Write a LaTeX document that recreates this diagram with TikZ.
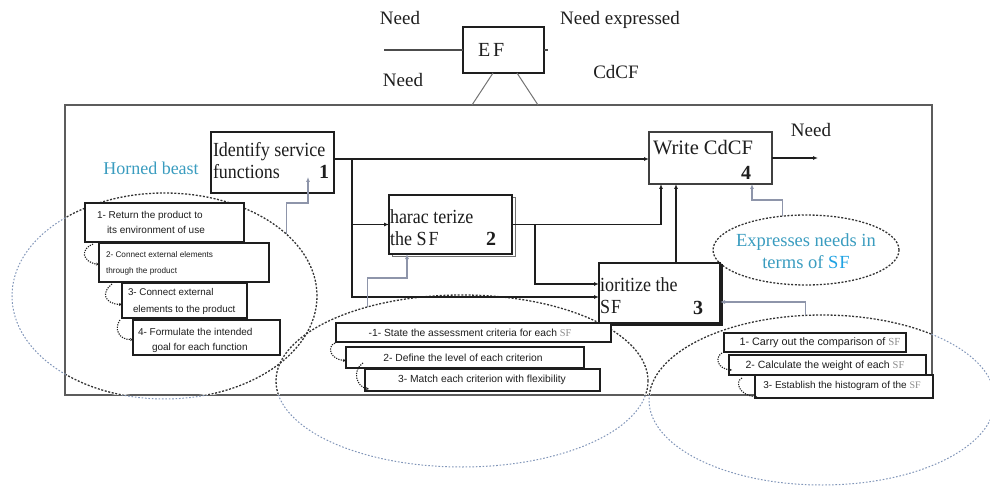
\documentclass[tikz,border=0pt]{standalone}
\usepackage{fontspec}
\setmainfont{Liberation Serif}
\newfontfamily\boxfont{Liberation Serif}[FakeStretch=0.9]
\newfontfamily\stepfont{Liberation Sans}
\usetikzlibrary{arrows.meta,shapes.geometric}
\definecolor{ink}{HTML}{1E1E1E}
\definecolor{framegrey}{HTML}{5C5C5C}
\definecolor{ctlgrey}{HTML}{8E95AA}
\definecolor{haze}{HTML}{8095B8}
\definecolor{labelteal}{HTML}{3A9CBF}
\definecolor{sfblue}{HTML}{1FA2E3}
\newcommand\greySF{{\rmfamily\color{black!45}SF}}

\begin{document}
\begin{tikzpicture}[x=1pt,y=-1pt,
  every node/.style={inner sep=0pt, outer sep=0pt},
  proc/.style={draw=ink, line width=1.4pt, fill=white, anchor=north west},
  stepbox/.style={draw=ink, line width=1.1pt, fill=white, anchor=north west},
  boxtext/.style={font={\boxfont\fontsize{20}{22}\selectfont}, text=ink, align=left, anchor=west},
  boxnum/.style={font={\bfseries\fontsize{20}{22}\selectfont}, text=ink},
  toplabel/.style={font={\fontsize{19}{21}\selectfont}, text=ink},
  steptext/.style={font={\stepfont\fontsize{10}{15}\selectfont}, text=ink, align=left, anchor=west},
  stepmid/.style={font={\stepfont\fontsize{10.3}{12}\selectfont}, text=ink},
  flow/.style={draw=ink, line width=1.3pt, -{Latex[length=5pt,width=4pt]}},
  ctl/.style={draw=ctlgrey, line width=1.4pt, -{Latex[length=5pt,width=4pt]}},
  curl/.style={draw=ink, line width=1.1pt, dash pattern=on 1.2pt off 1.2pt, -{Stealth[length=3pt,width=3pt]}},
  hazering/.style={ellipse, draw=haze, line width=1pt, dash pattern=on 1.6pt off 1.8pt},
  darkring/.style={ellipse, draw=black!80, line width=1.3pt, dash pattern=on 2pt off 1.6pt},
  lsize/.style={minimum width=305pt, minimum height=206pt},
  msize/.style={minimum width=372pt, minimum height=172pt},
  rsize/.style={minimum width=346pt, minimum height=170pt},
]
\useasboundingbox (0,0) rectangle (990,489);

% ---------- context block ----------
\node[draw=ink, line width=1.4pt, fill=white, anchor=north west,
      minimum width=81pt, minimum height=46pt] (ef) at (463,27) {};
\node[font={\fontsize{20}{22}\selectfont}, text=ink, anchor=west] (eflabel) at (478,50) {E\kern3pt F};
\coordinate (needin) at (384,50);
\coordinate (needout) at (548,50);
\draw[draw=black!70, line width=1.2pt] (needin) -- (ef.west);
\draw[draw=black!70, line width=1.2pt] (ef.east) -- (needout);
\node[toplabel] (needa) at (400,18) {Need};
\node[toplabel] (needb) at (403,80) {Need};
\node[toplabel] (needexp) at (620,20) {Need expressed};
\node[toplabel] (cdcf) at (616,72) {CdCF};

% ---------- main frame ----------
\node[draw=framegrey, line width=1.3pt, anchor=north west,
      minimum width=867pt, minimum height=290pt] (frame) at (65,105) {};
\draw[draw=black!55, line width=1pt] ([shift={(30,0)}]ef.south west) -- ([shift={(407,0)}]frame.north west);
\draw[draw=black!55, line width=1pt] ([shift={(54,0)}]ef.south west) -- ([shift={(473,0)}]frame.north west);

% ---------- grouping rings ----------
\node[hazering, lsize] (lring) at (164.5,296) {};
\node[hazering, msize] (mring) at (462,381) {};
\node[hazering, rsize] (rring) at (822,400) {};
\begin{scope}
  \clip (65.8,105.8) rectangle (931.2,394.2);
  \node[ellipse, draw=white, line width=2.6pt, lsize] at (lring) {};
  \node[ellipse, draw=white, line width=2.6pt, msize] at (mring) {};
  \node[ellipse, draw=white, line width=2.6pt, rsize] at (rring) {};
  \node[darkring, lsize] at (lring) {};
  \node[darkring, msize] at (mring) {};
  \node[darkring, rsize] at (rring) {};
\end{scope}
\node[darkring, minimum width=186pt, minimum height=70pt] (xring) at (806,250) {};
\node[font={\fontsize{18.5}{22}\selectfont}, text=labelteal, align=center] (xtext) at (806,251)
  {Expresses needs in\\terms of {\color{sfblue}S\kern1pt F}};
\node[font={\fontsize{18}{20}\selectfont}, text=labelteal] (horned) at (151,168) {Horned beast};

% ---------- process boxes ----------
\node[proc, minimum width=123pt, minimum height=61pt] (b1) at (211,132) {};
\node[proc, draw=black!55, line width=0.9pt, minimum width=123pt, minimum height=59pt] (b2shadow) at (392,197) {};
\node[proc, minimum width=123pt, minimum height=59pt] (b2) at (389,195) {};
\node[proc, fill=ink, minimum width=121pt, minimum height=60pt] (b3shadow) at (601,265) {};
\node[proc, minimum width=121pt, minimum height=60pt] (b3) at (599,263) {};
\node[proc, draw=black!75, minimum width=123pt, minimum height=52pt] (b4) at (649,132) {};

\node[boxtext] (b1text) at (213,161) {Identify service\\functions};
\node[boxnum] (b1num) at (324,172) {1};
\node[boxtext] (b2text) at (390,227.5) {harac terize\\the S\kern2pt F};
\node[boxnum] (b2num) at (491,239) {2};
\node[boxtext] (b3text) at (600,295.5) {ioritize the\\S\kern1pt F};
\node[boxnum] (b3num) at (698,308) {3};
\node[boxtext, font={\fontsize{20.5}{22}\selectfont}] (b4text) at (653,148) {Write CdCF};
\node[boxnum] (b4num) at (746,173) {4};
\node[toplabel] (needout2) at (811,130) {Need};

% ---------- main flow ----------
\coordinate (j1) at (352,159);
\coordinate (j3) at (535,0);
\coordinate (outneed) at (818,158);
\draw[flow] (b1.east |- j1) -- (b4.west |- j1);
\draw[flow] (j1) |- ([shift={(0,4)}]b3.west);
\draw[flow] (j1 |- b2.west) -- (b2.west);
\draw[flow] (b2.east) -| ([shift={(12,0)}]b4.south west);
\draw[flow] (b2.east -| j3) |- ([shift={(0,-9)}]b3.west);
\draw[flow] ([shift={(77,0)}]b3.north west) -- ([shift={(27,0)}]b4.south west);
\draw[flow] (b4.east) -- (outneed);

% ---------- control links from the rings ----------
\coordinate (b1tap) at ([shift={(97,-16)}]b1.south west);
\coordinate (b2tap) at ([shift={(18,0)}]b2.south west);
\coordinate (b4tap) at ([shift={(-20,0)}]b4.south east);
\draw[ctl] (lring.27.6) |- ([shift={(0,26)}]b1tap) -- (b1tap);
\draw[ctl] (mring.142) |- ([shift={(0,24)}]b2tap) -- (b2tap);
\draw[ctl] (rring.101) |- ([shift={(0,9)}]b3.east);
\draw[ctl] (xring.125) |- ([shift={(0,16)}]b4tap) -- (b4tap);

% ---------- step lists ----------
\node[stepbox, minimum width=159pt, minimum height=39pt] (sb1) at (85,203) {};
\node[stepbox, minimum width=170pt, minimum height=39pt] (sb2) at (99,243) {};
\node[stepbox, minimum width=125pt, minimum height=35pt] (sb3) at (122,283) {};
\node[stepbox, minimum width=147pt, minimum height=35pt] (sb4) at (133,320) {};
\node[steptext] (sb1text) at (97,222.5) {1- Return the product to\\\hspace*{10pt}its environment of use};
\node[steptext, font={\stepfont\fontsize{8.2}{16}\selectfont}] (sb2text) at (106,263) {2- Connect external elements\\through the product};
\node[steptext, font={\stepfont\fontsize{9.8}{17}\selectfont}] (sb3text) at (128,301.5) {3- Connect external\\\hspace*{5pt}elements to the product};
\node[steptext] (sb4text) at (138,340.5) {4- Formulate the intended\\\hspace*{14pt}goal for each function};

\node[stepbox, minimum width=275pt, minimum height=19pt] (mb1) at (336,323) {};
\node[stepbox, minimum width=238pt, minimum height=21pt] (mb2) at (346,347) {};
\node[stepbox, minimum width=235pt, minimum height=22pt] (mb3) at (365,369) {};
\node[stepmid] (mb1text) at (470,333) {-1- State the assessment criteria for each \greySF};
\node[stepmid] (mb2text) at (463,358) {2- Define the level of each criterion};
\node[stepmid] (mb3text) at (482,380) {3- Match each criterion with flexibility};

\node[stepbox, minimum width=182pt, minimum height=19pt] (rb1) at (724,333) {};
\node[stepbox, minimum width=197pt, minimum height=20pt] (rb2) at (729,355) {};
\node[stepbox, minimum width=178pt, minimum height=23pt] (rb3) at (755,375) {};
\node[stepmid, font={\stepfont\fontsize{10.8}{12}\selectfont}] (rb1text) at (820,343) {1- Carry out the comparison of \greySF};
\node[stepmid, font={\stepfont\fontsize{10.5}{12}\selectfont}] (rb2text) at (825,366) {2- Calculate the weight of each \greySF};
\node[stepmid, font={\stepfont\fontsize{10}{12}\selectfont}] (rb3text) at (842,386) {3- Establish the histogram of the \greySF};

% ---------- step-to-step hooks ----------
\draw[curl] ([shift={(8,2)}]sb1.south west) .. controls (80,249) and (82,262) .. ([shift={(0,2)}]sb2.west);
\draw[curl] ([shift={(13,2)}]sb2.south west) .. controls (101,292) and (104,304) .. ([shift={(0,4)}]sb3.west);
\draw[curl] ([shift={(-2,2)}]sb3.south west) .. controls (114,328) and (118,340) .. ([shift={(0,2)}]sb4.west);
\draw[curl] ([shift={(-1,1)}]mb1.south west) .. controls (326,347) and (331,360) .. ([shift={(0,3)}]mb2.west);
\draw[curl] ([shift={(17,-5)}]mb2.south west) .. controls (352,370) and (356,387) .. ([shift={(4,9)}]mb3.west);
\draw[curl] ([shift={(-2,1)}]rb1.south west) .. controls (714,358) and (718,369) .. ([shift={(3,5)}]rb2.west);
\draw[curl] ([shift={(13,3)}]rb2.south west) .. controls (734,382) and (740,396) .. ([shift={(2,10)}]rb3.west);
\end{tikzpicture}
\end{document}
